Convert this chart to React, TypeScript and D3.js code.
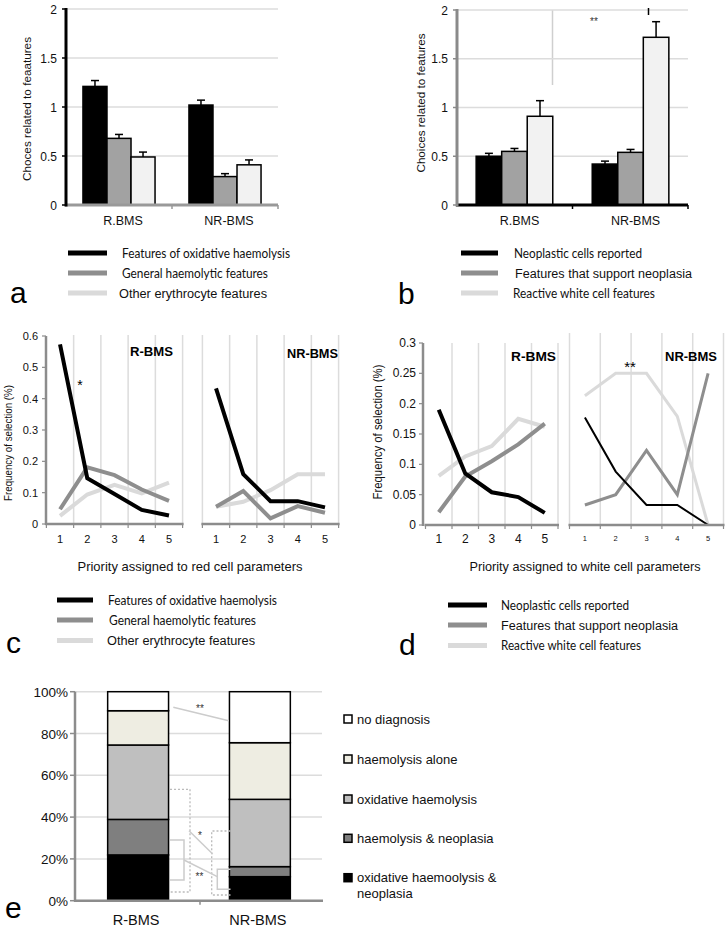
import React from "react";
import * as d3 from "d3";

// ---------------- data ----------------
const barGroups = ["R.BMS", "NR-BMS"];
const barTicks = [0, 0.5, 1, 1.5, 2];
const barTickLabels = ["0", "0.5", "1", "1.5", "2"];

const redFeatures = ["Features of oxidative haemolysis", "General haemolytic features", "Other erythrocyte features"];
const redChoicesRBMS = [1.21, 0.68, 0.49];
const redChoicesNRBMS = [1.02, 0.29, 0.41];
const redErrorRBMS = [0.06, 0.04, 0.05];
const redErrorNRBMS = [0.05, 0.03, 0.05];

const whiteFeatures = ["Neoplastic cells reported", "Features that support neoplasia", "Reactive white cell features"];
const whiteChoicesRBMS = [0.5, 0.55, 0.91];
const whiteChoicesNRBMS = [0.42, 0.54, 1.72];
const whiteErrorRBMS = [0.03, 0.03, 0.16];
const whiteErrorNRBMS = [0.03, 0.03, 0.16];

const priorities = [1, 2, 3, 4, 5];
const redTicks = [0, 0.1, 0.2, 0.3, 0.4, 0.5, 0.6];
const redOxidativeR = [0.573, 0.146, 0.096, 0.045, 0.027];
const redGeneralR = [0.047, 0.181, 0.156, 0.11, 0.074];
const redOtherR = [0.026, 0.094, 0.125, 0.098, 0.132];
const redOxidativeNR = [0.433, 0.159, 0.073, 0.073, 0.053];
const redGeneralNR = [0.055, 0.105, 0.018, 0.057, 0.036];
const redOtherNR = [0.055, 0.071, 0.108, 0.159, 0.159];

const whiteTicks = [0, 0.05, 0.1, 0.15, 0.2, 0.25, 0.3];
const whiteNeoplasticR = [0.19, 0.085, 0.054, 0.046, 0.02];
const whiteSupportR = [0.021, 0.08, 0.105, 0.133, 0.167];
const whiteReactiveR = [0.081, 0.113, 0.13, 0.175, 0.162];
const whiteNeoplasticNR = [0.177, 0.088, 0.033, 0.033, 0];
const whiteSupportNR = [0.033, 0.05, 0.123, 0.05, 0.25];
const whiteReactiveNR = [0.213, 0.25, 0.25, 0.179, 0];

const diagnosisGroups = ["R-BMS", "NR-BMS"];
const diagnosisNames = [
  "oxidative haemoolysis & neoplasia",
  "haemolysis & neoplasia",
  "oxidative haemolysis",
  "haemolysis alone",
  "no diagnosis",
];
const diagnosisRBMS = [21.9, 17.0, 35.6, 16.4, 9.1];
const diagnosisNRBMS = [11.5, 4.8, 32.2, 27.1, 24.4];
const percentTicks = [0, 20, 40, 60, 80, 100];

// ---------------- styles ----------------
const ARIAL = "'Liberation Sans', Arial, sans-serif";
const CALIBRI = "Lato, 'Open Sans', sans-serif";
const barFills = ["#000000", "#a2a2a2", "#f2f2f2"];
const lineColors = ["#000000", "#8e8e8e", "#dadada"];
const diagFills = ["#000000", "#7f7f7f", "#bfbfbf", "#eeede2", "#ffffff"];
const AXIS_GRAY = "#8c8c8c";
const GRID = "#dcdcdc";

type BarProps = {
  x0: number; x1: number; yBottom: number; yTop: number;
  pIn: number; pOut: number;
  meansR: number[]; meansNR: number[]; errR: number[]; errNR: number[];
  yAxisColor: string; xAxisColor: string; labelDx: number;
};

function BarPanel(p: BarProps) {
  const y = d3.scaleLinear().domain([0, 2]).range([p.yBottom, p.yTop]);
  const gx = d3.scaleBand<string>().domain(barGroups).range([p.x0, p.x1]).paddingInner(p.pIn).paddingOuter(p.pOut);
  const sx = d3.scaleBand<number>().domain([0, 1, 2]).range([0, gx.bandwidth()]);
  const means = [p.meansR, p.meansNR];
  const errs = [p.errR, p.errNR];
  const mid = (p.x0 + p.x1) / 2;
  return (
    <g>
      {barTicks.slice(1).map((t, i) => (
        <line key={"g" + i} x1={p.x0} x2={p.x1} y1={y(t)} y2={y(t)} stroke={GRID} strokeWidth={1.5} />
      ))}
      {barGroups.map((g, gi) => (
        <g key={g}>
          {means[gi].map((m, si) => {
            const bx = (gx(g) as number) + (sx(si) as number);
            const cx = bx + sx.bandwidth() / 2;
            const top = y(m + errs[gi][si]);
            return (
              <g key={si}>
                <line x1={cx} x2={cx} y1={y(m)} y2={top} stroke="#000" strokeWidth={1.5} />
                <line x1={cx - 4} x2={cx + 4} y1={top} y2={top} stroke="#000" strokeWidth={1.5} />
                <rect x={bx} y={y(m)} width={sx.bandwidth()} height={y(0) - y(m)} fill={barFills[si]} stroke="#000" strokeWidth={1.5} />
              </g>
            );
          })}
          <text x={(gx(g) as number) + gx.bandwidth() / 2 + p.labelDx} y={p.yBottom + 20} fontFamily={ARIAL} fontSize={12.5} textAnchor="middle" fill="#111">{g}</text>
        </g>
      ))}
      <line x1={p.x0 - 1} x2={p.x1} y1={y(0)} y2={y(0)} stroke={p.xAxisColor} strokeWidth={3} />
      {[mid, p.x1].map((tx, i) => (
        <line key={"xt" + i} x1={tx} x2={tx} y1={y(0)} y2={y(0) + 4} stroke={p.xAxisColor} strokeWidth={1.5} />
      ))}
      <line x1={p.x0} x2={p.x0} y1={y(0) + 1.5} y2={y(2) - 1} stroke={p.yAxisColor} strokeWidth={3} />
      {barTicks.map((t, i) => (
        <g key={"yt" + i}>
          <line x1={p.x0 - 4} x2={p.x0} y1={y(t)} y2={y(t)} stroke={p.yAxisColor} strokeWidth={1.5} />
          <text x={p.x0 - 9} y={y(t) + 4.5} fontFamily={ARIAL} fontSize={12} textAnchor="end" fill="#111">{barTickLabels[i]}</text>
        </g>
      ))}
    </g>
  );
}

type LineSubProps = {
  xr: [number, number]; y: d3.ScaleLinear<number, number>;
  series: number[][]; widths: number[]; gridTop: number; border: boolean;
  tickSize: number; tickY: number; title: string; titleX: number; titleY: number; titleLen: number;
};

function LineSub(p: LineSubProps) {
  const x = d3.scaleBand<number>().domain(priorities).range(p.xr);
  const step = x.step();
  const bounds = d3.range(priorities.length + 1).map((i) => p.xr[0] + i * step);
  const y0 = p.y(0);
  const line = d3.line<number>().x((_, i) => (x(priorities[i]) as number) + x.bandwidth() / 2).y((v) => p.y(v));
  return (
    <g>
      {bounds.map((b, i) => (i === 0 && !p.border ? null : (
        <line key={"v" + i} x1={b} x2={b} y1={p.gridTop} y2={y0} stroke={GRID} strokeWidth={1.5} />
      )))}
      {[2, 1, 0].map((si) => (
        <path key={"s" + si} d={line(p.series[si]) as string} fill="none" stroke={lineColors[si]} strokeWidth={p.widths[si]} strokeLinejoin="miter" />
      ))}
      <line x1={p.xr[0] - 1} x2={p.xr[1] + 1} y1={y0} y2={y0} stroke={AXIS_GRAY} strokeWidth={2.5} />
      {bounds.map((b, i) => (
        <line key={"t" + i} x1={b} x2={b} y1={y0} y2={y0 + 4} stroke={AXIS_GRAY} strokeWidth={1.2} />
      ))}
      {priorities.map((pr) => (
        <text key={"l" + pr} x={(x(pr) as number) + x.bandwidth() / 2} y={p.tickY} fontFamily={ARIAL} fontSize={p.tickSize} textAnchor="middle" fill="#111">{pr}</text>
      ))}
      <text x={p.titleX} y={p.titleY} fontFamily={ARIAL} fontWeight="bold" fontSize={13.5} textLength={p.titleLen} lengthAdjust="spacingAndGlyphs" fill="#000">{p.title}</text>
    </g>
  );
}

type LegendProps = { names: string[]; lx0: number; lx1: number; ys: number[]; tx: number[]; lens: number[]; fonts: string[] };
function LineLegend(p: LegendProps) {
  return (
    <g>
      {p.names.map((n, i) => (
        <g key={n}>
          <line x1={p.lx0} x2={p.lx1} y1={p.ys[i]} y2={p.ys[i]} stroke={lineColors[i]} strokeWidth={5} />
          <text x={p.tx[i]} y={p.ys[i] + 4.5} fontFamily={p.fonts[i]} fontSize={12.5} textLength={p.lens[i]} lengthAdjust="spacingAndGlyphs" fill="#111">{n}</text>
        </g>
      ))}
    </g>
  );
}

function YAxisLines(x0: number, y: d3.ScaleLinear<number, number>, ticks: number[], labelX: number, fs: number) {
  const [a, b] = y.domain();
  return (
    <g>
      <line x1={x0} x2={x0} y1={y(a) + 1} y2={y(b)} stroke={AXIS_GRAY} strokeWidth={2.5} />
      {ticks.map((t, i) => (
        <g key={i}>
          <line x1={x0 - 4} x2={x0} y1={y(t)} y2={y(t)} stroke={AXIS_GRAY} strokeWidth={1.2} />
          <text x={labelX} y={y(t) + 4} fontFamily={ARIAL} fontSize={fs} textAnchor="end" fill="#111">{String(t)}</text>
        </g>
      ))}
    </g>
  );
}

function RotLabel({ x, y, text, len, fs }: { x: number; y: number; text: string; len: number; fs: number }) {
  return (
    <text transform={`translate(${x},${y}) rotate(-90)`} textAnchor="middle" fontFamily={ARIAL} fontSize={fs} textLength={len} lengthAdjust="spacingAndGlyphs" fill="#111">{text}</text>
  );
}

function PanelLetter({ x, y, t }: { x: number; y: number; t: string }) {
  return <text x={x} y={y} fontFamily={ARIAL} fontSize={30} fill="#000">{t}</text>;
}

export default function App() {
  // ---- panel c / d scales
  const yc = d3.scaleLinear().domain([0, 0.6]).range([524, 336]);
  const yd = d3.scaleLinear().domain([0, 0.3]).range([525, 343]);

  // ---- panel e
  const ye = d3.scaleLinear().domain([0, 100]).range([900.7, 691.7]);
  const xe = d3.scaleBand<string>().domain(diagnosisGroups).range([76, 322]).paddingInner(0.5).paddingOuter(0.26);
  const diagData = [diagnosisRBMS, diagnosisNRBMS];
  const legendYs = [719, 759, 799, 838.3, 877.7];

  return (
    <svg width={726} height={928} style={{ position: "absolute", left: 0, top: 0, background: "#fff" }}>
      <rect x={0} y={0} width={726} height={928} fill="#fff" />

      {/* ---------- panel a ---------- */}
      <BarPanel x0={66} x1={278} yBottom={205} yTop={9} pIn={0.32} pOut={0.16}
        meansR={redChoicesRBMS} meansNR={redChoicesNRBMS} errR={redErrorRBMS} errNR={redErrorNRBMS}
        yAxisColor="#000" xAxisColor="#999" labelDx={4} />
      <RotLabel x={31} y={109} text="Choces related to feaatures" len={144} fs={11.5} />
      <LineLegend names={redFeatures} lx0={68} lx1={107} ys={[253, 273, 293]} tx={[122, 122, 119]} lens={[168, 146, 148]} fonts={[CALIBRI, CALIBRI, ARIAL]} />
      <PanelLetter x={10} y={303} t="a" />

      {/* ---------- panel b ---------- */}
      <line x1={552.5} x2={552.5} y1={10} y2={85} stroke="#cfcfcf" strokeWidth={1.5} />
      <BarPanel x0={457} x1={688} yBottom={205} yTop={10} pIn={0.34} pOut={0.165}
        meansR={whiteChoicesRBMS} meansNR={whiteChoicesNRBMS} errR={whiteErrorRBMS} errNR={whiteErrorNRBMS}
        yAxisColor="#8a8a8a" xAxisColor="#000" labelDx={5} />
      <line x1={648.5} x2={648.5} y1={8} y2={15} stroke="#000" strokeWidth={1.5} />
      <text x={594} y={25} fontFamily={ARIAL} fontSize={10} textAnchor="middle" fill="#333">**</text>
      <RotLabel x={425} y={103} text="Choices related to features" len={139} fs={11.5} />
      <LineLegend names={whiteFeatures} lx0={461} lx1={498} ys={[253, 273, 293]} tx={[514, 515, 513]} lens={[128, 177, 142]} fonts={[CALIBRI, ARIAL, CALIBRI]} />
      <PanelLetter x={398} y={304} t="b" />

      {/* ---------- panel c ---------- */}
      <LineSub xr={[46.4, 182.6]} y={yc} series={[redOxidativeR, redGeneralR, redOtherR]} widths={[4, 4, 4]} gridTop={335}
        border={false} tickSize={11} tickY={543} title="R-BMS" titleX={130} titleY={356} titleLen={43} />
      <LineSub xr={[202.4, 338.6]} y={yc} series={[redOxidativeNR, redGeneralNR, redOtherNR]} widths={[4, 4, 4]} gridTop={335}
        border={true} tickSize={11} tickY={543} title="NR-BMS" titleX={287} titleY={358} titleLen={51} />
      {YAxisLines(46, yc, redTicks, 38, 11)}
      <text x={80} y={390} fontFamily={ARIAL} fontSize={14} textAnchor="middle" fill="#000">*</text>
      <RotLabel x={12} y={443} text="Frequency of selection (%)" len={116} fs={11} />
      <text x={190} y={571} fontFamily={ARIAL} fontSize={13} textAnchor="middle" textLength={225} lengthAdjust="spacingAndGlyphs" fill="#111">Priority assigned to red  cell parameters</text>
      <LineLegend names={redFeatures} lx0={57} lx1={93} ys={[600, 620, 640.5]} tx={[108, 109, 107]} lens={[169, 147, 148]} fonts={[CALIBRI, CALIBRI, ARIAL]} />
      <PanelLetter x={6} y={653} t="c" />

      {/* ---------- panel d ---------- */}
      <LineSub xr={[425.5, 558]} y={yd} series={[whiteNeoplasticR, whiteSupportR, whiteReactiveR]} widths={[4, 4, 4]} gridTop={343}
        border={false} tickSize={12} tickY={543} title="R-BMS" titleX={511} titleY={361} titleLen={45} />
      <LineSub xr={[569.5, 723.5]} y={yd} series={[whiteNeoplasticNR, whiteSupportNR, whiteReactiveNR]} widths={[2, 3, 3]} gridTop={333}
        border={true} tickSize={7.5} tickY={541} title="NR-BMS" titleX={665} titleY={361} titleLen={52} />
      {YAxisLines(423, yd, whiteTicks, 416, 12)}
      <text x={630} y={372} fontFamily={ARIAL} fontSize={15} textAnchor="middle" fill="#000">**</text>
      <RotLabel x={382} y={432} text="Frequency of selection (%)" len={135} fs={12} />
      <text x={585} y={571} fontFamily={ARIAL} fontSize={13} textAnchor="middle" textLength={231} lengthAdjust="spacingAndGlyphs" fill="#111">Priority assigned to white cell parameters</text>
      <LineLegend names={whiteFeatures} lx0={448} lx1={487} ys={[605, 625, 645.5]} tx={[501, 501, 501]} lens={[128, 177, 140]} fonts={[CALIBRI, ARIAL, CALIBRI]} />
      <PanelLetter x={399} y={655} t="d" />

      {/* ---------- panel e ---------- */}
      {percentTicks.slice(1).map((t) => (
        <line key={"eg" + t} x1={75} x2={322} y1={ye(t)} y2={ye(t)} stroke={GRID} strokeWidth={1.5} />
      ))}
      {diagnosisGroups.map((g, gi) => {
        const stack = d3.cumsum(diagData[gi]);
        return (
          <g key={g}>
            {diagData[gi].map((v, si) => {
              const top = stack[si];
              const bottom = top - v;
              return (
                <rect key={si} x={xe(g)} y={ye(top)} width={xe.bandwidth()} height={ye(bottom) - ye(top)} fill={diagFills[si]} stroke="#000" strokeWidth={1.5} />
              );
            })}
            <text x={(xe(g) as number) + xe.bandwidth() / 2 - 2} y={925} fontFamily={ARIAL} fontSize={14.5} textAnchor="middle" fill="#111">{g}</text>
          </g>
        );
      })}
      {/* significance marks */}
      <line x1={173.3} y1={707.3} x2={228.7} y2={720.7} stroke="#cccccc" strokeWidth={1.5} />
      <text x={200} y={712} fontFamily={ARIAL} fontSize={10} textAnchor="middle" fill="#333">**</text>
      <polyline points={`170,789.3 190,789.3 190,892 170,892`} fill="none" stroke="#bbbbbb" strokeWidth={1.3} strokeDasharray="2,2" />
      <polyline points={`170,840 184,840 184,880 170,880`} fill="none" stroke="#cccccc" strokeWidth={1.5} />
      <polyline points={`230.5,831 211.7,831 211.7,895 230.5,895`} fill="none" stroke="#bbbbbb" strokeWidth={1.3} strokeDasharray="2,2" />
      <polyline points={`230.5,869.3 217.3,869.3 217.3,889.3 230.5,889.3`} fill="none" stroke="#cccccc" strokeWidth={1.5} />
      <line x1={189} y1={830.7} x2={212.7} y2={854} stroke="#cccccc" strokeWidth={1.5} />
      <text x={200} y={838.5} fontFamily={ARIAL} fontSize={10} textAnchor="middle" fill="#333">*</text>
      <line x1={184} y1={860} x2={217.3} y2={876.7} stroke="#cccccc" strokeWidth={1.5} />
      <text x={199.5} y={880} fontFamily={ARIAL} fontSize={10} textAnchor="middle" fill="#333">**</text>
      {/* axes */}
      <line x1={74} x2={323} y1={ye(0)} y2={ye(0)} stroke={AXIS_GRAY} strokeWidth={2.5} />
      <line x1={200} x2={200} y1={ye(0)} y2={ye(0) + 4} stroke={AXIS_GRAY} strokeWidth={1.5} />
      <line x1={75} x2={75} y1={ye(0) + 1} y2={ye(100)} stroke={AXIS_GRAY} strokeWidth={2.5} />
      {percentTicks.map((t) => (
        <g key={"et" + t}>
          <line x1={70} x2={75} y1={ye(t)} y2={ye(t)} stroke={AXIS_GRAY} strokeWidth={1.5} />
          <text x={68} y={ye(t) + 5} fontFamily={ARIAL} fontSize={13.5} textAnchor="end" fill="#111">{t + "%"}</text>
        </g>
      ))}
      {/* legend e */}
      {diagnosisNames.slice().reverse().map((n, i) => {
        const si = diagnosisNames.length - 1 - i;
        const words = n.endsWith("& neoplasia") && n.startsWith("oxidative") ? ["oxidative haemoolysis &", "neoplasia"] : [n];
        return (
          <g key={n}>
            <rect x={344} y={legendYs[i] - 4} width={8} height={8} fill={diagFills[si]} stroke="#000" strokeWidth={1.5} />
            {words.map((w, wi) => (
              <text key={wi} x={357} y={legendYs[i] + 4.5 + wi * 15.6} fontFamily={ARIAL} fontSize={13} fill="#111">{w}</text>
            ))}
          </g>
        );
      })}
      <PanelLetter x={5} y={918} t="e" />
    </svg>
  );
}
